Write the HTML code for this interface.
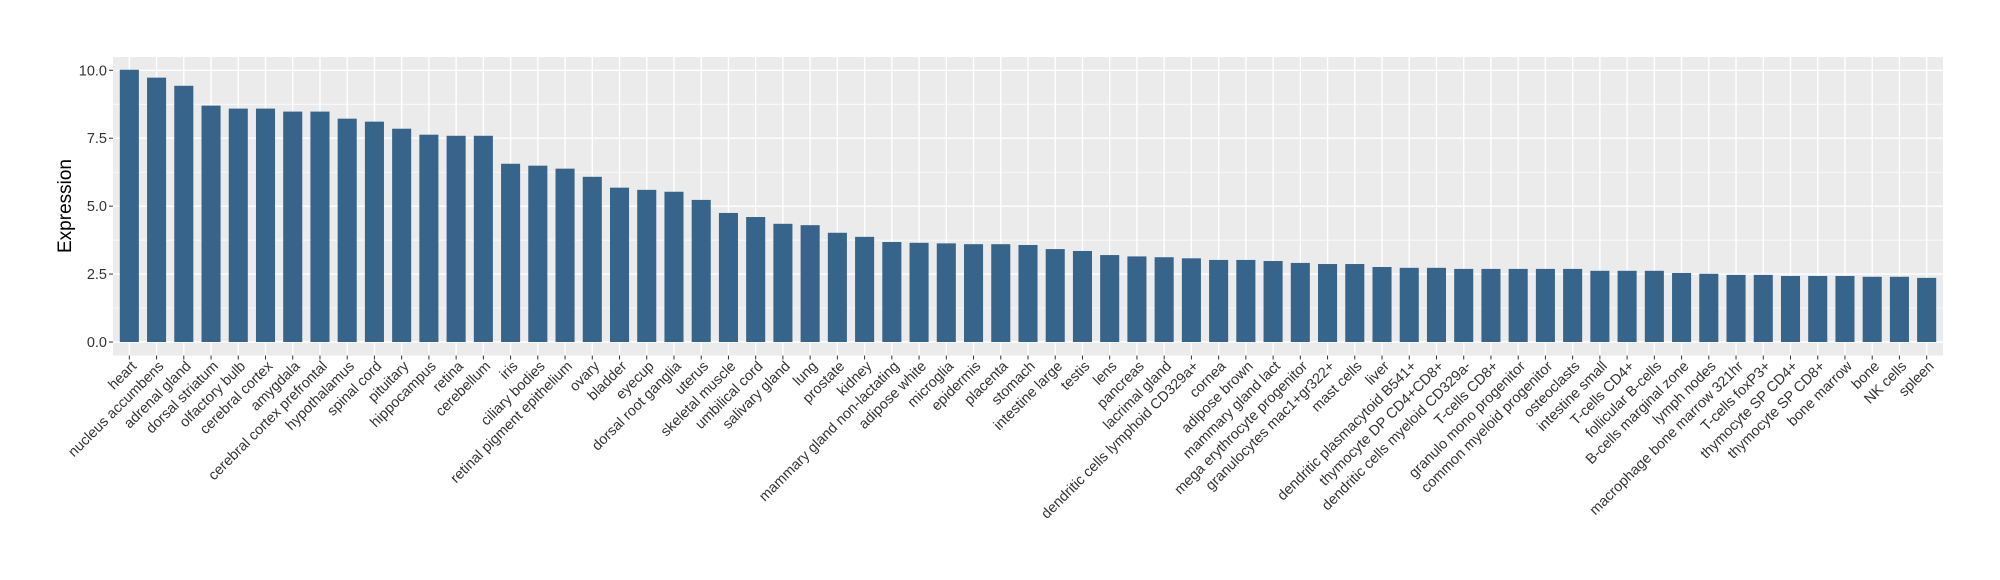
<!DOCTYPE html>
<html><head><meta charset="utf-8"><style>
html,body{margin:0;padding:0;background:#fff;}
svg{display:block;font-family:"Liberation Sans",Arial,sans-serif;}
</style></head><body>
<svg id="chart" width="2000" height="580" viewBox="0 0 2000 580"></svg>
<script>
const categories = ["heart","nucleus accumbens","adrenal gland","dorsal striatum","olfactory bulb","cerebral cortex","amygdala","cerebral cortex prefrontal","hypothalamus","spinal cord","pituitary","hippocampus","retina","cerebellum","iris","ciliary bodies","retinal pigment epithelium","ovary","bladder","eyecup","dorsal root ganglia","uterus","skeletal muscle","umbilical cord","salivary gland","lung","prostate","kidney","mammary gland non-lactating","adipose white","microglia","epidermis","placenta","stomach","intestine large","testis","lens","pancreas","lacrimal gland","dendritic cells lymphoid CD329a+","cornea","adipose brown","mammary gland  lact","mega erythrocyte progenitor","granulocytes mac1+gr322+","mast cells","liver","dendritic plasmacytoid B541+","thymocyte DP CD4+CD8+","dendritic cells myeloid CD329a-","T-cells CD8+","granulo mono progenitor","common myeloid progenitor","osteoclasts","intestine small","T-cells CD4+","follicular B-cells","B-cells marginal zone","lymph nodes","macrophage bone marrow 321hr","T-cells foxP3+","thymocyte SP CD4+","thymocyte SP CD8+","bone marrow","bone","NK cells","spleen"];
const values = [10.02,9.73,9.43,8.70,8.59,8.59,8.48,8.48,8.22,8.11,7.85,7.63,7.59,7.59,6.56,6.49,6.38,6.08,5.68,5.60,5.53,5.23,4.75,4.60,4.35,4.30,4.02,3.87,3.68,3.65,3.63,3.60,3.60,3.57,3.42,3.35,3.20,3.15,3.12,3.08,3.02,3.02,2.98,2.91,2.87,2.87,2.76,2.73,2.73,2.69,2.69,2.69,2.69,2.69,2.62,2.62,2.62,2.54,2.51,2.47,2.47,2.43,2.43,2.43,2.40,2.40,2.36];
const yTicks = [0,2.5,5,7.5,10];
const yTickLabels = ["0.0","2.5","5.0","7.5","10.0"];
const yMinor = [1.25,3.75,6.25,8.75];

const NS="http://www.w3.org/2000/svg";
const svg=document.getElementById('chart');
const PL=113, PR=1943, PT=57, PB=355.5;
const Y0=342, Y10=70.3;
function yScale(v){return Y0-(v/10)*(Y0-Y10);}
const n=categories.length;
const step=(PR-PL)/(n-1+1.2);
function xScale(i){return PL+step*(0.6+i);}
function mk(tag,attrs,parent){const e=document.createElementNS(NS,tag);for(const k in attrs)e.setAttribute(k,attrs[k]);(parent||svg).appendChild(e);return e;}

const bg=mk('rect',{x:PL,y:PT,width:PR-PL,height:PB-PT,fill:'#EBEBEB'});


yMinor.forEach(v=>{const l=mk('line',{x1:PL,x2:PR,y1:yScale(v),y2:yScale(v),stroke:'#fff','stroke-width':0.7});

});
yTicks.forEach(v=>{const l=mk('line',{x1:PL,x2:PR,y1:yScale(v),y2:yScale(v),stroke:'#fff','stroke-width':1.4});

});
categories.forEach((c,i)=>{const l=mk('line',{x1:xScale(i),x2:xScale(i),y1:PT,y2:PB,stroke:'#fff','stroke-width':1.4});

});

const bw=step*0.7;
values.forEach((v,i)=>{const r=mk('rect',{x:xScale(i)-bw/2,y:yScale(v),width:bw,height:yScale(0)-yScale(v),fill:'#36648B'});

});

yTicks.forEach((v,i)=>{
const t=mk('line',{x1:PL-4,x2:PL,y1:yScale(v),y2:yScale(v),stroke:'#333','stroke-width':1});


const tx=mk('text',{x:PL-6,y:yScale(v)+5,'text-anchor':'end','font-size':'14.5px',fill:'#333'});
tx.textContent=yTickLabels[i];

});

categories.forEach((c,i)=>{
const x=xScale(i);
const t=mk('line',{x1:x,x2:x,y1:PB,y2:PB+4,stroke:'#333','stroke-width':1});


const ax=x+8, ay=367;
const tx=mk('text',{x:ax,y:ay,'text-anchor':'end','font-size':'14.5px',fill:'#333',transform:'rotate(-45 '+ax+' '+ay+')'});
tx.textContent=c;

});

const yt=mk('text',{x:71,y:206,'text-anchor':'middle','font-size':'19px',fill:'#000',transform:'rotate(-90 71 206)'});
yt.textContent='Expression';


</script>
</body></html>
